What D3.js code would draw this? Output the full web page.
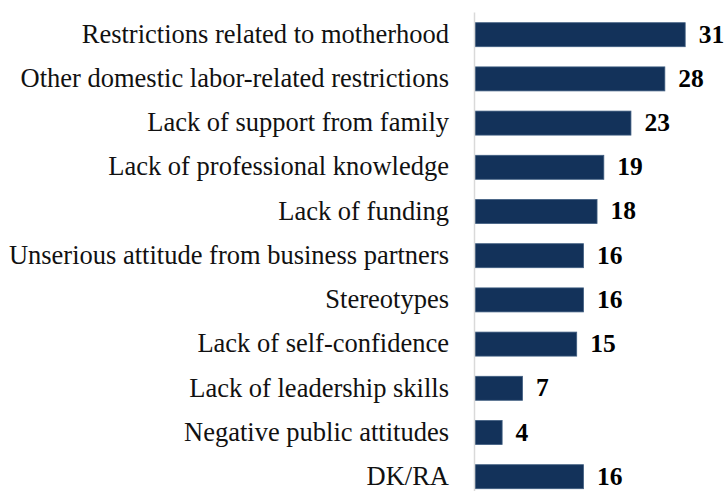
<!DOCTYPE html>
<html>
<head>
<meta charset="utf-8">
<script src="https://cdn.jsdelivr.net/npm/d3@7"></script>
<style>
  html, body { margin: 0; padding: 0; background: #fff; }
  svg { display: block; }
</style>
</head>
<body>
<svg id="chart" width="726" height="491"></svg>
<script>
// Barriers reported, share of respondents (%)
const categories = [
  "Restrictions related to motherhood",
  "Other domestic labor-related restrictions",
  "Lack of support from family",
  "Lack of professional knowledge",
  "Lack of funding",
  "Unserious attitude from business partners",
  "Stereotypes",
  "Lack of self-confidence",
  "Lack of leadership skills",
  "Negative public attitudes",
  "DK/RA"
];
const values = [31, 28, 23, 19, 18, 16, 16, 15, 7, 4, 16];

const svg = d3.select("#chart");
const axisX = 474.5;
const barStart = 475;
const serif = "'Liberation Serif', 'Times New Roman', serif";

const x = d3.scaleLinear().domain([0, 35]).range([barStart, barStart + 237.3]);
const y = d3.scaleBand().domain(categories).range([2.5, 508.9]).padding(0.457);

const data = categories.map((c, i) => ({ cat: c, val: values[i] }));

// bars
svg.append("g").selectAll("rect")
  .data(data)
  .join("rect")
  .attr("x", x(0))
  .attr("y", d => y(d.cat))
  .attr("width", d => x(d.val) - x(0))
  .attr("height", y.bandwidth())
  .attr("fill", "#13325a")
  .attr("stroke", "#3f5d80")
  .attr("stroke-width", 0.8);

// vertical category axis line
svg.append("line")
  .attr("x1", axisX).attr("x2", axisX)
  .attr("y1", 12.5).attr("y2", 491)
  .attr("stroke", "#d9d9d9")
  .attr("stroke-width", 1.5);

// category labels
svg.append("g").selectAll("text")
  .data(data)
  .join("text")
  .attr("x", 449)
  .attr("y", d => y(d.cat) + y.bandwidth() / 2 + 8.2)
  .attr("text-anchor", "end")
  .attr("font-family", serif)
  .attr("font-size", 26.5)
  .attr("fill", "#111")
  .text(d => d.cat);

// value labels
svg.append("g").selectAll("text")
  .data(data)
  .join("text")
  .attr("x", d => x(d.val) + 13.5)
  .attr("y", d => y(d.cat) + y.bandwidth() / 2 + 8)
  .attr("font-family", serif)
  .attr("font-size", 25.5)
  .attr("font-weight", "bold")
  .attr("fill", "#000")
  .text(d => d.val);
</script>
</body>
</html>
